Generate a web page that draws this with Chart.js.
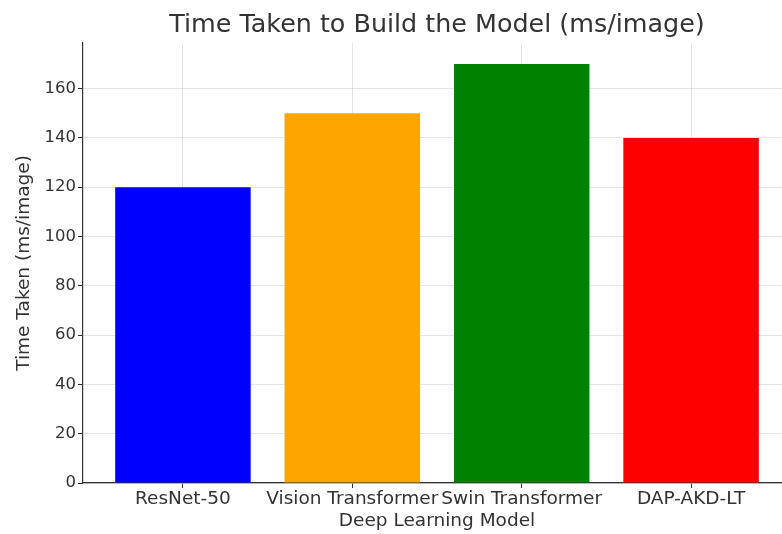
<!DOCTYPE html>
<html>
<head>
<meta charset="utf-8">
<script src="https://cdn.jsdelivr.net/npm/chart.js@4"></script>
<style>
  html, body { margin: 0; padding: 0; background: #fff; }
  #wrap { width: 782px; height: 534px; overflow: hidden; }
</style>
</head>
<body>
<div id="wrap">
  <canvas id="myCanvas" width="874" height="534"></canvas>
</div>
<script>
const models = ['ResNet-50', 'Vision Transformer', 'Swin Transformer', 'DAP-AKD-LT'];
const times = [120, 150, 170, 140];
const barColors = ['#0000ff', '#ffa500', '#008000', '#ff0000'];
const yTicks = [0, 20, 40, 60, 80, 100, 120, 140, 160];

const textColor = '#333333';
const gridColor = 'rgba(205,205,205,0.55)';

let ctx = document.getElementById('myCanvas').getContext('2d');
let myChart = new Chart(ctx, {
  type: 'bar',
  data: {
    datasets: [{
      label: 'Time Taken',
      data: models.map((m, i) => ({ x: i, y: times[i] })),
      backgroundColor: barColors,
      borderWidth: 0,
      categoryPercentage: 1,
      barPercentage: 0.8
    }]
  },
  options: {
    responsive: false,
    animation: false,
    layout: { padding: 0 },
    plugins: {
      legend: { display: false },
      tooltip: { enabled: false },
      title: {
        display: true,
        text: 'Time Taken to Build the Model (ms/image)',
        color: textColor,
        font: { family: 'DejaVu Sans', size: 25.4, weight: 'normal', lineHeight: 1.2 },
        padding: { top: 10, bottom: 2.5 }
      }
    },
    scales: {
      x: {
        type: 'linear',
        min: -0.59,
        max: 3.59,
        offset: false,
        z: 1,
        afterBuildTicks: scale => {
          scale.ticks = models.map((m, i) => ({ value: i }));
        },
        afterFit: scale => { scale.height = 51; },
        ticks: {
          callback: v => models[v],
          color: textColor,
          font: { family: 'DejaVu Sans', size: 18.5 },
          padding: 0,
          maxRotation: 0,
          autoSkip: false
        },
        grid: { offset: false, color: gridColor, tickColor: textColor, tickLength: 5 },
        border: { color: textColor, width: 1.2 },
        title: {
          display: true,
          text: 'Deep Learning Model',
          color: textColor,
          font: { family: 'DejaVu Sans', size: 18.5, lineHeight: 1.2 },
          padding: { top: 0, bottom: 2 }
        }
      },
      y: {
        min: 0,
        max: 178.5,
        z: 1,
        afterBuildTicks: scale => {
          scale.ticks = yTicks.map(v => ({ value: v }));
        },
        afterFit: scale => { scale.width = 83; },
        ticks: {
          color: textColor,
          font: { family: 'DejaVu Sans', size: 16.5 },
          padding: 2
        },
        grid: { color: gridColor, tickColor: textColor, tickLength: 5 },
        border: { color: textColor, width: 1.2 },
        title: {
          display: true,
          text: 'Time Taken (ms/image)',
          color: textColor,
          font: { family: 'DejaVu Sans', size: 18.5, lineHeight: 1.2 },
          padding: { top: 13, bottom: 0 }
        }
      },
      // empty right axis: reserves space so the plot is cropped at the right like the original
      yRight: {
        position: 'right',
        min: 0,
        max: 178.5,
        afterFit: scale => { scale.width = 83; },
        ticks: { display: false },
        grid: { display: false },
        border: { display: false }
      }
    }
  }
});
</script>
</body>
</html>
